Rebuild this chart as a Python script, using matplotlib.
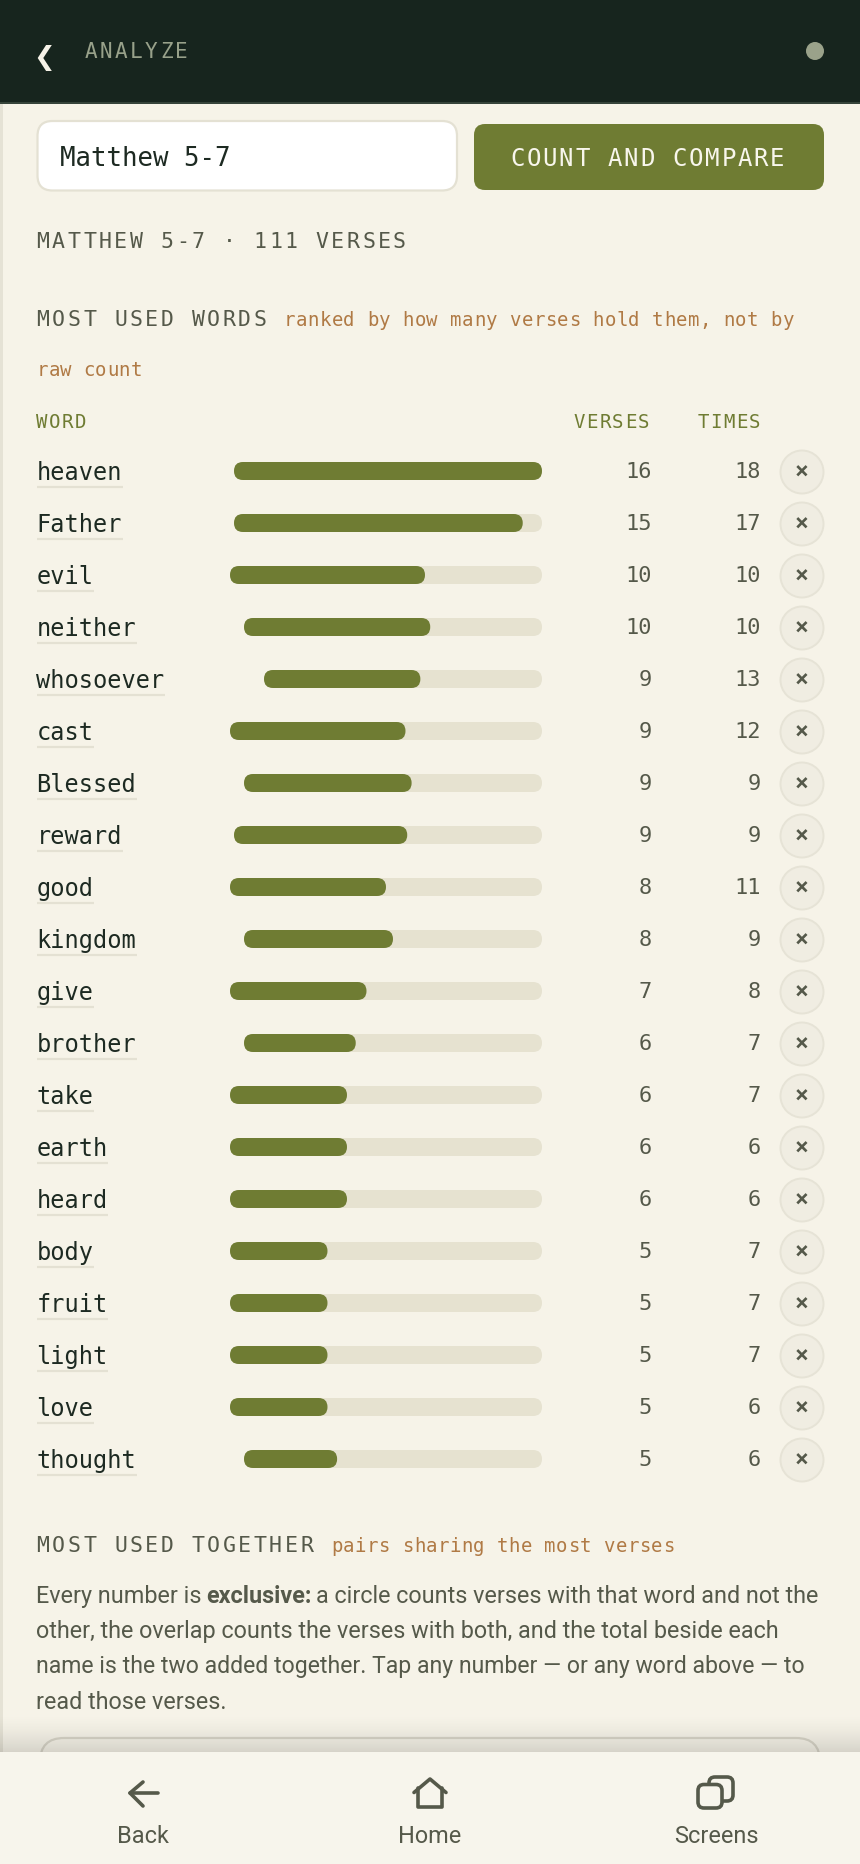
import matplotlib

matplotlib.use("Agg")
import matplotlib.pyplot as plt
import numpy as np
from matplotlib.patches import Circle, FancyBboxPatch, Rectangle
from matplotlib.text import Text

words = ["heaven", "Father", "evil", "neither", "whosoever", "cast", "Blessed", "reward", "good", "kingdom",
         "give", "brother", "take", "earth", "heard", "body", "fruit", "light", "love", "thought"]
verses = [16, 15, 10, 10, 9, 9, 9, 9, 8, 8, 7, 6, 6, 6, 6, 5, 5, 5, 5, 5]
times = [18, 17, 10, 10, 13, 12, 9, 9, 11, 9, 8, 7, 7, 6, 6, 7, 7, 7, 6, 6]

PAGE = "#f6f3e8"
NAV = "#f7f5ec"
DARK = "#17251e"
OLIVE = "#6f7c33"
TRACK = "#e6e2d0"
LINE = "#e4e1d3"
INK = "#55594a"
TAN = "#b07a45"
MONO = "DejaVu Sans Mono"
SANS = "Roboto"

# the bar tracks start where the word column ends, so they shift a little per word
track_starts = {w: 230 for w in words}
track_starts.update({w: 234 for w in ["heaven", "Father", "reward"]})
track_starts.update({w: 244 for w in ["neither", "Blessed", "kingdom", "brother", "thought"]})
track_starts["whosoever"] = 264
TRACK_END = 542
ROW_TOP = 471
ROW_STEP = 52


def px(n):
    # css pixels to points at dpi 100
    return n * 0.72


class SpacedText(Text):
    """One string drawn with a fixed advance, for the letter-spaced labels."""

    def __init__(self, x, y, text, advance, **kwargs):
        super().__init__(x, y, text, **kwargs)
        self.advance = advance

    def draw(self, renderer):
        x, y = self.get_position()
        for i, ch in enumerate(self.get_text()):
            t = Text(x + i * self.advance, y, ch, color=self.get_color(), va="baseline", ha="left",
                     fontproperties=self.get_fontproperties(), transform=self.get_transform())
            t.set_figure(self.get_figure())
            t.draw(renderer)


fig = plt.figure(figsize=(8.6, 18.64), dpi=100, facecolor=PAGE)
ax = fig.add_axes([0, 0, 1, 1])


def label(x, y, s, size, color, advance=None, family=MONO, ha="left", weight="normal"):
    if advance is None:
        return ax.text(x, y, s, fontsize=px(size), color=color, family=family, ha=ha, va="baseline",
                       fontweight=weight, zorder=6)
    t = SpacedText(x, y, s, advance, fontsize=px(size), color=color, family=family, zorder=6)
    ax.add_artist(t)
    return t


def rounded(x0, y0, x1, y1, radius, face, edge="none", lw=0, z=2):
    ax.add_patch(FancyBboxPatch((x0, y0), x1 - x0, y1 - y0, boxstyle=f"round,pad=0,rounding_size={radius}",
                                facecolor=face, edgecolor=edge, linewidth=lw, zorder=z))


# page frame and header
ax.add_patch(Rectangle((0, 0), 2.5, 1752, facecolor="#e5e2d5", zorder=1))
ax.add_patch(Rectangle((0, 0), 860, 102, facecolor=DARK, zorder=2))
ax.add_patch(Rectangle((0, 102), 860, 2, facecolor="#36443a", zorder=2))
label(33, 65, "\u276e", 26, "#f6f3e8", family="DejaVu Sans")
label(85, 58, "ANALYZE", 21, "#98a18a", advance=15.0)
ax.add_patch(Circle((815, 51), 9, facecolor="#9aa28a", zorder=3))

# input row
rounded(37.5, 121, 457, 190.5, 15, "#ffffff", LINE, 1.6)
label(60.5, 165.5, "Matthew 5-7", 25.8, "#1d2a22")
rounded(474, 124, 824, 190, 11, OLIVE)
label(510, 165.5, "COUNT AND COMPARE", 24, "#f8f6ec", advance=16.25)

# section headings
label(36.5, 248, "MATTHEW 5-7 \u00b7 111 VERSES", 21.5, INK, advance=15.5)
label(36.5, 326, "MOST USED WORDS", 21.5, INK, advance=15.5)
label(284, 326, "ranked by how many verses hold them, not by", 19, TAN, advance=11.87)
label(36.5, 376, "raw count", 19, TAN, advance=11.75)

label(36.5, 428, "WORD", 19, OLIVE, advance=12.6)
label(573.5, 428, "VERSES", 19, OLIVE, advance=12.85)
label(698, 428, "TIMES", 19, OLIVE, advance=12.6)

# ranked rows
fill_scale = max(verses)
for i, (word, v, n) in enumerate(zip(words, verses, times)):
    y = ROW_TOP + i * ROW_STEP
    start = track_starts[word]
    label(36.5, y + 9, word, 23.6, "#1d2a22")
    ax.plot([37, 37 + len(word) * 14.25], [y + 16, y + 16], color=LINE, lw=1.6, solid_capstyle="butt", zorder=2)
    rounded(start, y - 9, TRACK_END, y + 9, 9, TRACK)
    rounded(start, y - 9, start + (TRACK_END - start) * v / fill_scale, y + 9, 9, OLIVE, z=3)
    label(652, y + 7, str(v), 22, INK, ha="right")
    label(761, y + 7, str(n), 22, INK, ha="right")
    ax.add_patch(Circle((802, y + 1), 21.5, facecolor="#f0ede2", edgecolor="#e6e3d6", linewidth=1.4, zorder=3))
    label(801.5, y + 8, "\u00d7", 23, INK, ha="center", weight="bold")

# pairs section
label(36.5, 1551.5, "MOST USED TOGETHER", 21.5, INK, advance=15.5)
label(331, 1551.5, "pairs sharing the most verses", 19, TAN, advance=11.85)
label(36.5, 1603, "Every number is", 23.4, INK, family=SANS)
label(206.5, 1603, "exclusive:", 23.4, INK, family=SANS, weight="bold")
label(315.5, 1603, "a circle counts verses with that word and not the", 23.4, INK, family=SANS)
label(36.5, 1638, "other, the overlap counts the verses with both, and the total beside each", 23.4, INK, family=SANS)
label(36.5, 1673, "name is the two added together. Tap any number \u2014 or any word above \u2014 to", 23.0, INK, family=SANS)
label(36.5, 1709, "read those verses.", 23.4, INK, family=SANS)

# next card peeking out under the nav, with the nav's shadow on top
rounded(40, 1738, 820, 1790, 24, PAGE, "#d8d5c8", 1.6, z=2)
fade = np.zeros((40, 1, 4))
fade[:, 0, 3] = np.linspace(0, 1, 40) ** 1.6 * 0.13
ax.imshow(fade, extent=(0, 860, 1752, 1712), aspect="auto", zorder=4)

# bottom nav
ax.add_patch(Rectangle((0, 1752), 860, 112, facecolor=NAV, zorder=5))
line_kw = dict(color=INK, lw=2.6, solid_capstyle="round", solid_joinstyle="round", zorder=6)
ax.plot([158, 130], [1793, 1793], **line_kw)
ax.plot([143, 130, 143], [1782, 1793, 1806], **line_kw)
ax.plot([414, 430, 446], [1792.5, 1779, 1792.5], **line_kw)
ax.plot([418, 418, 442, 442], [1788, 1807, 1807, 1788], **line_kw)
rounded(709, 1777, 733, 1801, 6, NAV, INK, 2.6, z=6)
rounded(698, 1784.5, 722, 1808, 6, NAV, INK, 2.6, z=6)
label(143, 1843, "Back", 23.5, INK, family=SANS, ha="center")
label(430, 1843, "Home", 23.5, INK, family=SANS, ha="center")
label(716, 1843, "Screens", 23.5, INK, family=SANS, ha="center")

ax.set_xlim(0, 860)
ax.set_ylim(1864, 0)
ax.axis("off")
fig.savefig("out.png", dpi=100, facecolor=PAGE)
